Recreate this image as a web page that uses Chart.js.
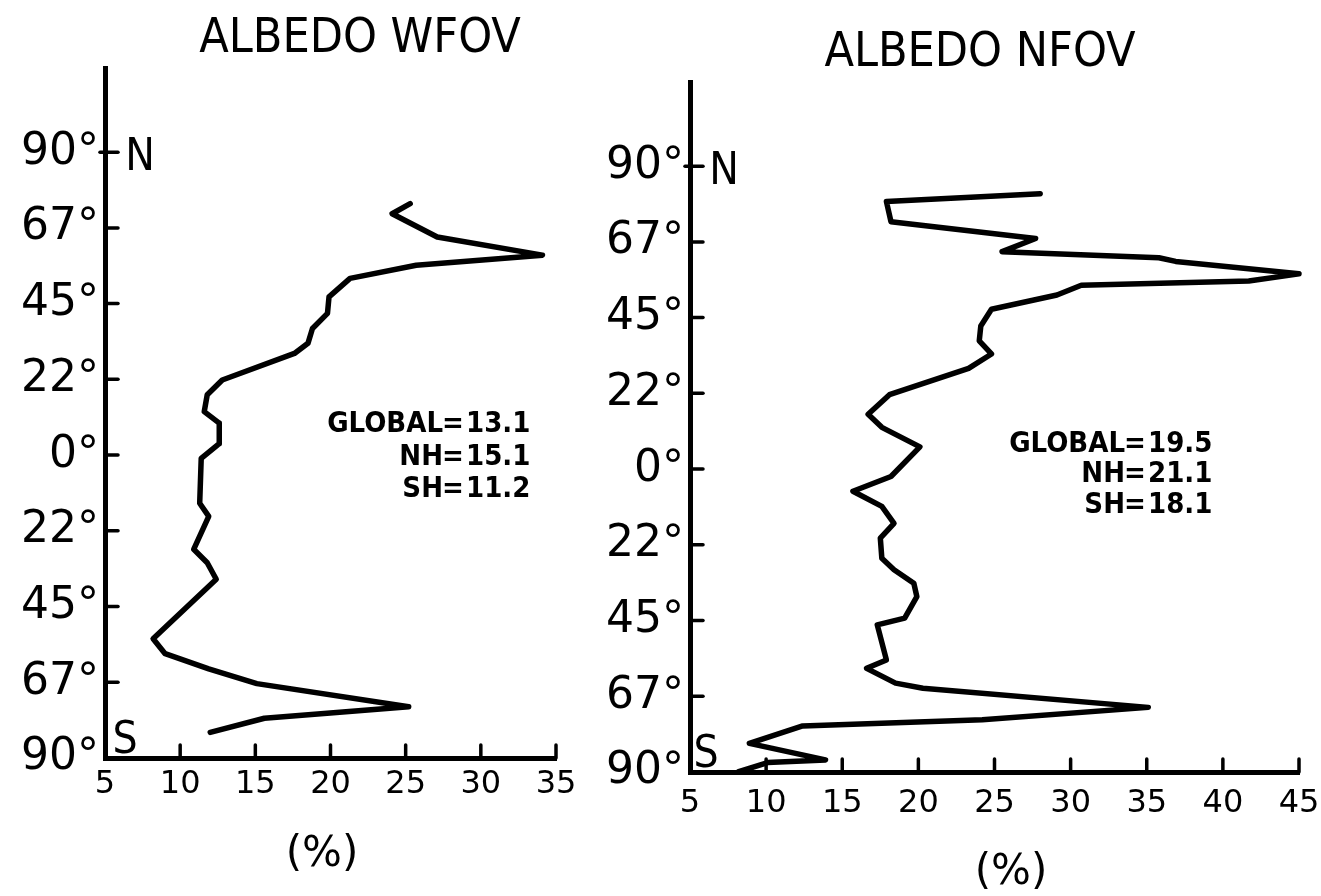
<!DOCTYPE html>
<html>
<head>
<meta charset="utf-8">
<script src="https://cdn.jsdelivr.net/npm/chart.js@4.4.1/dist/chart.umd.min.js"></script>
<style>
  html, body { margin: 0; padding: 0; background: #fff; }
  #wrap { position: relative; width: 1321px; height: 896px; }
  canvas { position: absolute; top: 0; }
  #wfov { left: 0; }
  #nfov { left: 600px; }
</style>
</head>
<body>
<div id="wrap">
  <canvas id="wfov" width="600" height="896"></canvas>
  <canvas id="nfov" width="721" height="896"></canvas>
</div>
<script>
// latitude ticks (deg) and how they are printed
const latTicks = [90, 67.5, 45, 22.5, 0, -22.5, -45, -67.5, -90]
const latLabels = ['90°', '67°', '45°', '22°', '0°', '22°', '45°', '67°', '90°']

// wide field of view (north -> south)
const wfovLat = [74.7, 71.7, 64.8, 59.4, 56.4, 52.5, 47.0, 42.1, 37.6, 33.2, 30.2, 22.3, 17.9, 12.9, 9.5, 3.4,
  -1.0, -14.3, -18.2, -28.0, -32.0, -36.9, -54.6, -59.0, -63.5, -67.9, -74.8, -78.2, -82.4]
const wfovAlbedo = [25.3, 24.1, 27.1, 34.1, 25.7, 21.3, 19.9, 19.8, 18.8, 18.5, 17.6, 12.8, 11.8, 11.6, 12.6, 12.6,
  11.4, 11.3, 11.9, 10.9, 11.8, 12.4, 8.2, 9.0, 11.9, 15.1, 25.2, 15.6, 12.0]

// narrow field of view
const nfovLat = [81.8, 79.5, 73.5, 68.5, 64.6, 62.8, 61.7, 58.0, 55.9, 54.6, 51.7, 47.5, 42.5, 38.1, 34.2, 29.9,
  22.1, 16.3, 12.4, 6.6, -2.2, -6.6, -11.1, -16.1, -20.5, -26.5, -29.9, -33.9, -37.9, -44.3, -46.3,
  -56.7, -59.2, -63.6, -65.1, -70.8, -74.5, -76.3, -81.5, -86.4, -87.2, -89.9]
const nfovAlbedo = [28.0, 17.9, 18.2, 27.7, 25.5, 35.8, 36.9, 45.0, 41.7, 30.7, 29.1, 24.8, 24.1, 24.0, 24.8, 23.3,
  18.1, 16.7, 17.6, 20.1, 18.2, 15.7, 17.6, 18.4, 17.5, 17.6, 18.4, 19.7, 19.9, 19.1, 17.3,
  17.9, 16.6, 18.5, 20.3, 35.1, 24.2, 12.4, 8.9, 13.9, 10.1, 8.2]

const statNames = ['GLOBAL', 'NH', 'SH']
const wfovStats = ['13.1', '15.1', '11.2']
const nfovStats = ['19.5', '21.1', '18.1']

const FONT = '"DejaVu Sans", sans-serif'
const NARROW = '"DejaVu Sans Condensed", "Liberation Sans Narrow", sans-serif'

// inward ticks + lettering
const decor = {
  id: 'decor',
  afterDraw(chart, args, o) {
    const { ctx, scales: { x, y } } = chart
    ctx.save()
    ctx.strokeStyle = '#000'
    ctx.lineWidth = 3.5
    ctx.lineCap = 'round'
    latTicks.forEach(v => {
      if (v === -90) return
      const py = y.getPixelForValue(v)
      ctx.beginPath()
      ctx.moveTo(x.left - (v === 90 ? 5 : 0), py)
      ctx.lineTo(x.left + 13, py)
      ctx.stroke()
    })
    x.ticks.forEach(t => {
      if (t.value === 5) return
      const px = x.getPixelForValue(t.value)
      ctx.beginPath()
      ctx.moveTo(px, y.bottom)
      ctx.lineTo(px, y.bottom - 13)
      ctx.stroke()
    })

    ctx.fillStyle = '#000'
    ctx.textBaseline = 'alphabetic'
    ctx.textAlign = 'center'
    ctx.font = '48px ' + NARROW
    ctx.fillText(o.title, o.titleX, o.titleY)
    ctx.font = '44px ' + NARROW
    ctx.fillText('N', o.nX, o.nY)
    ctx.fillText('S', o.sX, o.sY)
    ctx.font = '42px ' + FONT
    ctx.fillText('(%)', o.pctX, o.pctY)

    ctx.font = 'bold 29px ' + NARROW
    statNames.forEach((name, i) => {
      const by = o.statY[i]
      ctx.textAlign = 'right'
      ctx.fillText(name, o.eqX - 10, by)
      ctx.textAlign = 'center'
      ctx.fillText('=', o.eqX, by)
      ctx.textAlign = 'left'
      ctx.fillText(o.stats[i], o.eqX + 13, by)
    })
    ctx.restore()
  }
}

function makePanel(id, lats, vals, p) {
  const points = lats.map((lat, i) => ({ x: vals[i], y: lat }))
  return new Chart(document.getElementById(id), {
    type: 'scatter',
    data: {
      datasets: [{
        data: points,
        showLine: true,
        borderColor: '#000',
        borderWidth: 5.5,
        borderJoinStyle: 'round',
        borderCapStyle: 'round',
        pointRadius: 0,
        tension: 0,
        clip: false
      }]
    },
    options: {
      responsive: false,
      animation: false,
      layout: { padding: { top: p.top, right: p.right, bottom: 0, left: 0 } },
      plugins: {
        legend: { display: false },
        tooltip: { enabled: false },
        decor: p.decor
      },
      scales: {
        x: {
          type: 'linear',
          min: 5,
          max: p.xMax,
          grid: { display: false, drawTicks: false },
          border: { display: true, color: '#000', width: 5 },
          ticks: { stepSize: 5, padding: p.xPad, color: '#000', font: { family: FONT, size: 32 } },
          afterFit(s) { s.height = p.xHeight; s.paddingLeft = 0; s.paddingRight = 0 }
        },
        y: {
          type: 'linear',
          min: -90,
          max: 115,
          grid: { display: false, drawTicks: false },
          border: { display: true, color: '#000', width: 5 },
          ticks: {
            padding: 6,
            color: '#000',
            font: { family: FONT, size: 44 },
            callback: v => latLabels[latTicks.indexOf(v)]
          },
          afterBuildTicks(s) { s.ticks = latTicks.map(v => ({ value: v })) },
          afterFit(s) { s.width = p.left; s.paddingTop = 0; s.paddingBottom = 0 }
        }
      }
    },
    plugins: [decor]
  })
}

makePanel('wfov', wfovLat, wfovAlbedo, {
  top: 68, right: 44, left: 105, xMax: 35, xHeight: 138, xPad: 7,
  decor: {
    title: 'ALBEDO WFOV', titleX: 360, titleY: 52,
    nX: 140, nY: 170, sX: 125, sY: 753,
    pctX: 322, pctY: 866,
    eqX: 453, statY: [432, 465, 497], stats: wfovStats
  }
})

makePanel('nfov', nfovLat, nfovAlbedo, {
  top: 82, right: 22, left: 90, xMax: 45, xHeight: 124, xPad: 12,
  decor: {
    title: 'ALBEDO NFOV', titleX: 380, titleY: 66,
    nX: 124, nY: 184, sX: 106, sY: 767,
    pctX: 411, pctY: 884,
    eqX: 535, statY: [452, 482, 513], stats: nfovStats
  }
})
</script>
</body>
</html>
